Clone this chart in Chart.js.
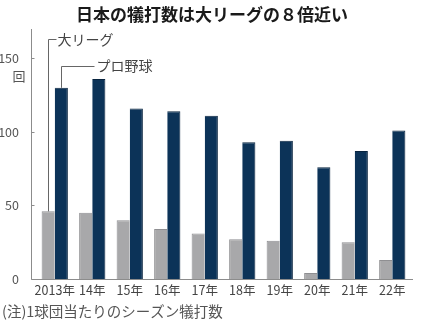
<!DOCTYPE html>
<html><head><meta charset="utf-8">
<script src="https://cdn.jsdelivr.net/npm/chart.js@4"></script>
<style>html,body{margin:0;padding:0;background:#fff}#wrap{width:425px;height:325px;position:relative}</style>
</head><body><div id="wrap"><canvas id="c" width="425" height="325"></canvas></div>
<script>
const years = ["2013年","14年","15年","16年","17年","18年","19年","20年","21年","22年"];
const mlb = [46,45,40,34,31,27,26,4,25,13];
const npb = [130,136,116,114,111,93,94,76,87,101];
const yTicks = [0,50,100,150];
const title = "日本の犠打数は大リーグの８倍近い";
const note = "(注)1球団当たりのシーズン犠打数";
const unit = "回";
const labelMlb = "大リーグ";
const labelNpb = "プロ野球";

const FONT = "'Noto Sans CJK JP','Noto Sans',sans-serif";

const deco = {
  id: 'deco',
  afterDraw(chart) {
    const ctx = chart.ctx, a = chart.chartArea;
    const ys = chart.scales.y;
    ctx.save();
    ctx.strokeStyle = '#8c8c8c'; ctx.lineWidth = 1;
    const ax = a.left - 4.5;
    ctx.beginPath(); ctx.moveTo(ax, a.top); ctx.lineTo(ax, a.bottom + 0.5); ctx.stroke();
    ctx.beginPath(); ctx.moveTo(ax, a.bottom + 0.5); ctx.lineTo(a.right + 2, a.bottom + 0.5); ctx.stroke();
    yTicks.forEach(v => { const py = Math.round(ys.getPixelForValue(v)) + 0.5;
      ctx.beginPath(); ctx.moveTo(ax, py); ctx.lineTo(ax + 3, py); ctx.stroke(); });
    ctx.fillStyle = '#1a1a1a'; ctx.font = "bold 17px " + FONT;
    ctx.textAlign = 'center'; ctx.textBaseline = 'middle';
    ctx.fillText(title, 212, 15);
    ctx.fillStyle = '#555'; ctx.font = "13px " + FONT;
    ctx.fillText(unit, 19, ys.getPixelForValue(150) + 18);
    ctx.textAlign = 'left'; ctx.font = "14.5px " + FONT; ctx.fillStyle = '#555';
    ctx.fillText(note, 2, 311);
    const b0 = chart.getDatasetMeta(0).data[0];
    const b1 = chart.getDatasetMeta(1).data[0];
    ctx.strokeStyle = '#666'; ctx.lineWidth = 1;
    let x0 = Math.round(b0.x) + 0.5;
    ctx.beginPath(); ctx.moveTo(x0, b0.y); ctx.lineTo(x0, 39.5); ctx.lineTo(x0 + 8, 39.5); ctx.stroke();
    let x1 = Math.round(b1.x) + 0.5;
    ctx.beginPath(); ctx.moveTo(x1, b1.y); ctx.lineTo(x1, 66.5); ctx.lineTo(x1 + 33, 66.5); ctx.stroke();
    ctx.fillStyle = '#444'; ctx.font = "14px " + FONT;
    ctx.fillText(labelMlb, x0 + 9, 40);
    ctx.fillText(labelNpb, x1 + 35, 66);
    ctx.restore();
  }
};

new Chart(document.getElementById('c'), {
  type: 'bar',
  data: {
    labels: years,
    datasets: [
      { label: labelMlb, data: mlb, backgroundColor: '#a8a8aa', borderColor: '#8f8f92', borderWidth: {top:1,left:1,right:0,bottom:0}, categoryPercentage: 0.7, barPercentage: 1.0 },
      { label: labelNpb, data: npb, backgroundColor: '#0c3358', borderColor: '#08243f', borderWidth: {top:1,left:0,right:1,bottom:0}, categoryPercentage: 0.7, barPercentage: 1.0 }
    ]
  },
  options: {
    responsive: false, animation: false, devicePixelRatio: 1,
    layout: { padding: { top: 29, right: 14, bottom: 0, left: 0 } },
    plugins: { legend: { display: false }, tooltip: { enabled: false }, title: { display: false } },
    scales: {
      x: {
        grid: { display: false }, border: { display: false },
        ticks: { color: '#444', font: { family: FONT, size: 12.5 }, padding: -4, maxRotation: 0, autoSkip: false },
        afterFit(s) { s.height = 46; }
      },
      y: {
        min: 0, max: 170,
        grid: { display: false }, border: { display: false },
        afterBuildTicks(s) { s.ticks = yTicks.map(v => ({ value: v })); },
        ticks: { color: '#555', font: { family: FONT, size: 12.5 }, padding: 9 },
        afterFit(s) { s.width = 36; }
      }
    }
  },
  plugins: [deco]
});
</script></body></html>
